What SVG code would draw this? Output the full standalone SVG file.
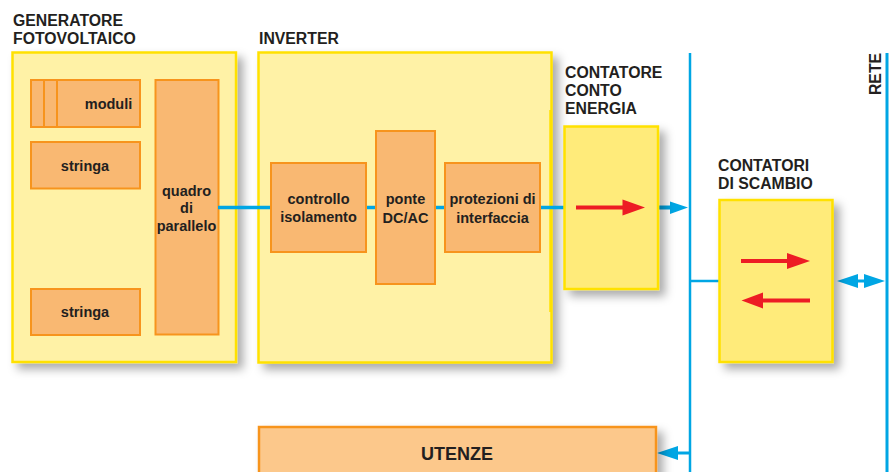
<svg xmlns="http://www.w3.org/2000/svg" width="890" height="472" viewBox="0 0 890 472">
  <style>
    text { font-family: "Liberation Sans", Arial, sans-serif; font-weight: bold; fill: #231f20; }
    .title { font-size: 15.8px; }
    .lbl { font-size: 14.5px; text-anchor: middle; }
    .big { fill: #fff2a6; stroke: #ffe100; stroke-width: 2.5; }
    .meter { fill: #ffeb7a; stroke: #ffe100; stroke-width: 2.5; }
    .blk { fill: #f9b872; stroke: #f7941d; stroke-width: 2; }
    .wire { stroke: #00a6e4; fill: none; }
    .red { stroke: #ed1c24; stroke-width: 4; fill: none; }
    .redhead { fill: #ed1c24; }
    .bluehead { fill: #00a6e4; }
  </style>
  <defs>
    <filter id="shadow" x="-10%" y="-10%" width="130%" height="130%">
      <feDropShadow dx="6" dy="6" stdDeviation="5" flood-color="#000" flood-opacity="0.33"/>
    </filter>
  </defs>

  <rect width="890" height="472" fill="#ffffff"/>

  <!-- Photovoltaic generator -->
  <g id="generatore">
    <text class="title" x="13" y="25.5">GENERATORE</text>
    <text class="title" x="13" y="44">FOTOVOLTAICO</text>
    <rect class="big" x="12.5" y="52.5" width="223.5" height="309.5" filter="url(#shadow)"/>
  </g>
  <g id="moduli">
    <rect class="blk" x="31" y="80" width="109" height="47"/>
    <line x1="44" y1="80" x2="44" y2="127" stroke="#f7941d" stroke-width="2"/>
    <line x1="57" y1="80" x2="57" y2="127" stroke="#f7941d" stroke-width="2"/>
    <text class="lbl" x="108.5" y="109">moduli</text>
  </g>
  <g id="stringa1">
    <rect class="blk" x="31" y="142" width="109" height="46.5"/>
    <text class="lbl" x="85" y="171">stringa</text>
  </g>
  <g id="stringa2">
    <rect class="blk" x="31" y="289" width="109" height="46"/>
    <text class="lbl" x="85" y="317">stringa</text>
  </g>
  <g id="quadro">
    <rect class="blk" x="155.5" y="80" width="63" height="254.5"/>
    <text class="lbl" x="186.5" y="196">quadro</text>
    <text class="lbl" x="186.5" y="213">di</text>
    <text class="lbl" x="186.5" y="231">parallelo</text>
  </g>

  <!-- Inverter -->
  <g id="inverter">
    <text class="title" x="259" y="44">INVERTER</text>
    <rect class="big" x="258.5" y="52.5" width="293" height="310" filter="url(#shadow)"/>
    <line x1="550.5" y1="110" x2="550.5" y2="312" stroke="#ffe100" stroke-width="2.5"/>
  </g>

  <!-- Connectors -->
  <g id="connectors">
    <line class="wire" x1="218" y1="207.5" x2="271" y2="207.5" stroke-width="3.5"/>
    <line class="wire" x1="366" y1="207.5" x2="376" y2="207.5" stroke-width="3.5"/>
    <line class="wire" x1="435" y1="207.5" x2="445" y2="207.5" stroke-width="3.5"/>
    <line class="wire" x1="540" y1="207.5" x2="564" y2="207.5" stroke-width="3.5"/>
    <!-- meter to bus -->
    <line class="wire" x1="658" y1="207.5" x2="672" y2="207.5" stroke-width="4"/>
    <polygon class="bluehead" points="670,201.5 688,207.5 670,214"/>
    <!-- local bus -->
    <line class="wire" x1="690" y1="53" x2="690" y2="472" stroke-width="2.5"/>
    <line class="wire" x1="690" y1="281" x2="719" y2="281" stroke-width="2.5"/>
    <!-- grid line -->
    <line class="wire" x1="887" y1="53" x2="887" y2="472" stroke-width="3"/>
    <line class="wire" x1="852" y1="281" x2="870" y2="281" stroke-width="3"/>
    <polygon class="bluehead" points="837,281 858,274 858,288"/>
    <polygon class="bluehead" points="885,281 864,274 864,288"/>
    <!-- bus to loads -->
    <line class="wire" x1="676" y1="453" x2="690" y2="453" stroke-width="3"/>
    <polygon class="bluehead" points="657,453 678,446 678,460"/>
  </g>

  <g id="controllo">
    <rect class="blk" x="271" y="163" width="95" height="89"/>
    <text class="lbl" x="318.5" y="203.5">controllo</text>
    <text class="lbl" x="318.5" y="222">isolamento</text>
  </g>
  <g id="ponte">
    <rect class="blk" x="376" y="131" width="59" height="153"/>
    <text class="lbl" x="405.5" y="204">ponte</text>
    <text class="lbl" x="405.5" y="222.5">DC/AC</text>
  </g>
  <g id="protezioni">
    <rect class="blk" x="445" y="163" width="95" height="89"/>
    <text class="lbl" x="492.5" y="204">protezioni di</text>
    <text class="lbl" x="492.5" y="222.5">interfaccia</text>
  </g>

  <!-- Production meter -->
  <g id="contatore-conto-energia">
    <text class="title" x="565" y="78">CONTATORE</text>
    <text class="title" x="565" y="96">CONTO</text>
    <text class="title" x="565" y="114">ENERGIA</text>
    <rect class="meter" x="564.5" y="126.5" width="93.5" height="162.5" filter="url(#shadow)"/>
    <line class="red" x1="576" y1="207.5" x2="625" y2="207.5"/>
    <polygon class="redhead" points="622.5,199.5 645,207.5 622.5,215.5"/>
  </g>

  <!-- Exchange meters -->
  <g id="contatori-di-scambio">
    <text class="title" x="718" y="171">CONTATORI</text>
    <text class="title" x="718" y="189">DI SCAMBIO</text>
    <rect class="meter" x="719.5" y="200" width="113" height="162" filter="url(#shadow)"/>
    <line class="red" x1="741" y1="261" x2="790" y2="261"/>
    <polygon class="redhead" points="787,253 810,261 787,269"/>
    <line class="red" x1="760" y1="300.5" x2="810" y2="300.5"/>
    <polygon class="redhead" points="763,292.5 741.5,300.5 763,308.5"/>
  </g>

  <!-- Grid -->
  <g id="rete">
    <text class="title" transform="translate(881,74) rotate(-90)" text-anchor="middle">RETE</text>
  </g>

  <!-- Loads -->
  <g id="utenze">
    <rect x="259" y="427" width="397" height="50" fill="#fcc88b" stroke="#f7941d" stroke-width="2.5" filter="url(#shadow)"/>
    <text x="457" y="460" font-size="18" text-anchor="middle">UTENZE</text>
  </g>
</svg>
